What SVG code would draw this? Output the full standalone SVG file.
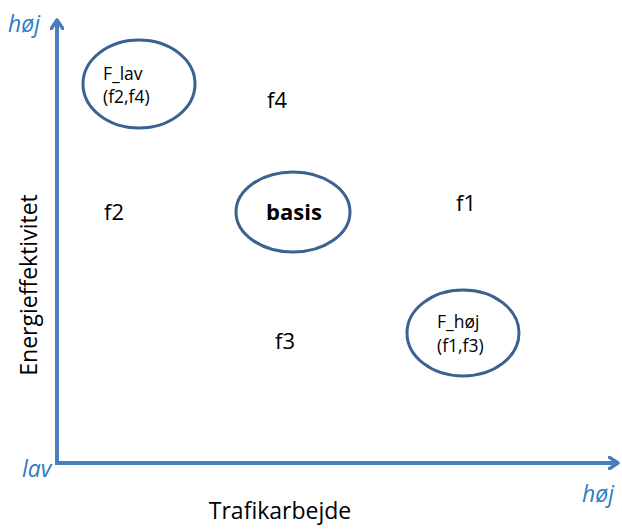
<svg xmlns="http://www.w3.org/2000/svg" width="622" height="530" viewBox="0 0 622 530">
  <style>
    .axis { stroke: #4a7ebb; stroke-width: 4; fill: none; }
    .node ellipse { fill: #ffffff; stroke: #3a6291; stroke-width: 3; }
    text { font-family: "Open Sans", "Liberation Sans", sans-serif; fill: #000; }
    .lbl { font-size: 22px; }
    .axt { font-size: 23px; }
    .small { font-size: 17.5px; }
    .tick { font-size: 23px; font-style: italic; fill: #2e7bc4; }
  </style>
  <defs>
    <marker id="arrow" viewBox="0 0 12 14" refX="10" refY="7" markerWidth="12" markerHeight="14" markerUnits="userSpaceOnUse" orient="auto">
      <path d="M1,1 L10,7 L1,13" fill="none" stroke="#4a7ebb" stroke-width="3.5" stroke-linecap="round" stroke-linejoin="round"/>
    </marker>
  </defs>

  <!-- axes -->
  <g id="connectors">
    <line class="axis" x1="57" y1="463" x2="57" y2="20" marker-end="url(#arrow)"/>
    <line class="axis" x1="55" y1="463" x2="618" y2="463" marker-end="url(#arrow)"/>
  </g>

  <!-- axis labels -->
  <text class="tick" x="8" y="32">høj</text>
  <text class="tick" x="22" y="477">lav</text>
  <text class="tick" x="582" y="502">høj</text>
  <text class="axt" x="280" y="519" text-anchor="middle">Trafikarbejde</text>
  <text class="axt" x="0" y="0" text-anchor="middle" transform="translate(37,285) rotate(-90)">Energieffektivitet</text>

  <!-- points -->
  <g id="f4"><text class="lbl" x="277" y="108" text-anchor="middle">f4</text></g>
  <g id="f2"><text class="lbl" x="114" y="220" text-anchor="middle">f2</text></g>
  <g id="f1"><text class="lbl" x="466" y="211" text-anchor="middle">f1</text></g>
  <g id="f3"><text class="lbl" x="285" y="349" text-anchor="middle">f3</text></g>

  <!-- groups -->
  <g id="F_lav" class="node">
    <ellipse cx="139" cy="84" rx="56" ry="44"/>
    <text class="small" x="103" y="80">F_lav</text>
    <text class="small" x="103" y="103">(f2,f4)</text>
  </g>
  <g id="basis" class="node">
    <ellipse cx="293" cy="212" rx="57" ry="40"/>
    <text class="lbl" x="294" y="220" text-anchor="middle" font-weight="bold">basis</text>
  </g>
  <g id="F_hoej" class="node">
    <ellipse cx="463" cy="333" rx="56" ry="43"/>
    <text class="small" x="437" y="328">F_høj</text>
    <text class="small" x="437" y="352">(f1,f3)</text>
  </g>
</svg>
